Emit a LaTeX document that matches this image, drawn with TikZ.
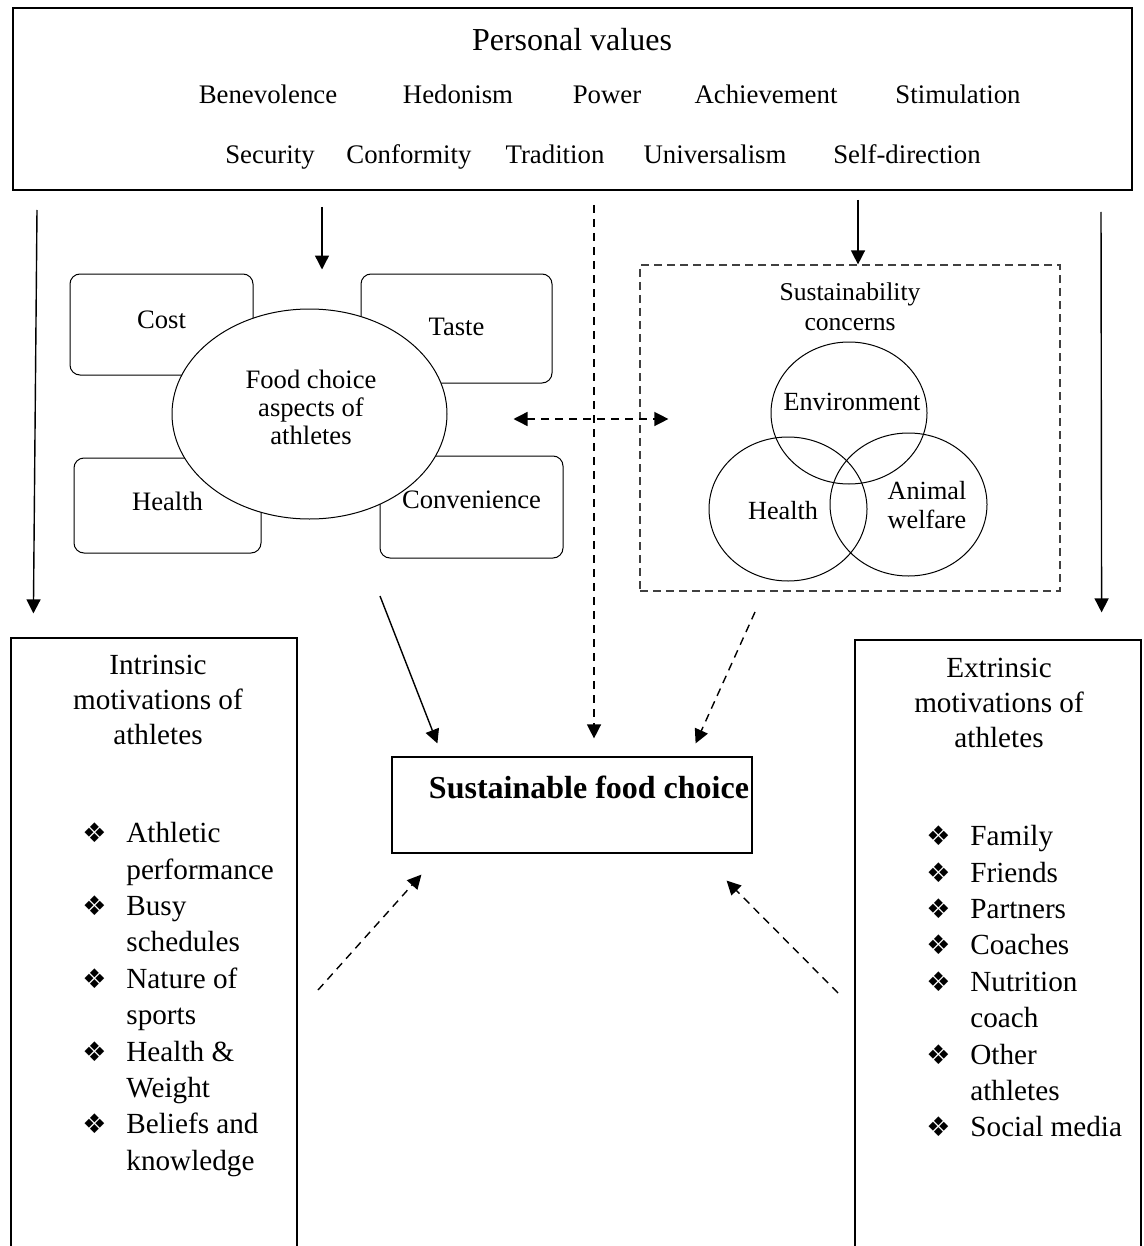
\documentclass[tikz,border=0pt]{standalone}
\usepackage{fontspec}
\setmainfont{Liberation Serif}
\newfontfamily\symfont{DejaVu Sans}
\usetikzlibrary{arrows.meta,shapes.geometric}
\newcommand{\bul}{\makebox[22pt][l]{\symfont\fontsize{13.5}{13.5}\selectfont ❖}}
\newcommand{\ind}{\hspace*{22pt}}

\begin{document}
\begin{tikzpicture}[x=0.5pt,y=-0.5pt]
	\tikzset{box/.style={draw,line width=0.6pt},
		aspect/.style={draw,rounded corners=5pt,line width=0.5pt,font=\fontsize{13.3}{15}\selectfont},
		venn/.style={draw,ellipse,line width=0.5pt,inner sep=0pt},
		val/.style={anchor=base,font=\fontsize{13.4}{15}\selectfont},
		small/.style={font=\fontsize{13.1}{14.5}\selectfont,align=center},
		motiv/.style={font=\fontsize{14.6}{17.5}\selectfont,align=center},
		items/.style={anchor=north west,align=left,inner sep=0pt,font=\fontsize{14.6}{18.2}\selectfont},
		arr/.style={-{Triangle[length=7pt,width=7pt]},line width=0.7pt},
		darr/.style={arr,dash pattern=on 4pt off 3pt}}
	\useasboundingbox (0,0) rectangle (1144,1246);
	\clip (0,0) rectangle (1144,1246);

	\node[box,minimum width=559.5pt,minimum height=91pt] (values) at (572.5,99) {};
	\node[font=\fontsize{16}{18}\selectfont] (pv) at (572,40) {Personal values};
	\foreach \t/\x in {Benevolence/268,Hedonism/458,Power/607,Achievement/766,Stimulation/958}
		\node[val] (a\x) at (\x,104) {\t};
	\foreach \t/\x in {Security/270,Conformity/409,Tradition/555,Universalism/715,Self-direction/907}
		\node[val] (b\x) at (\x,164) {\t};

	\node[aspect,minimum width=91.5pt,minimum height=50.5pt,text depth=5pt] (cost) at (161.5,324.5) {Cost};
	\node[aspect,minimum width=95.5pt,minimum height=54.5pt,text depth=2pt] (taste) at (456.5,328.5) {Taste};
	\node[aspect,minimum width=93.5pt,minimum height=47.5pt,text depth=4pt] (health) at (167.5,505.5) {Health};
	\node[aspect,minimum width=91.5pt,minimum height=51pt,text depth=7pt] (conv) at (471.5,507) {Convenience};
	\node[draw,ellipse,fill=white,line width=0.5pt,minimum width=137.5pt,minimum height=105pt] (fca) at (309.5,414) {};
	\node[small,font=\fontsize{13.3}{14}\selectfont] (fcat) at (311,407) {Food choice\\aspects of\\athletes};

	\node[box,dash pattern=on 4pt off 2.5pt,draw=black!75,minimum width=210pt,minimum height=163pt] (sus) at (850,428) {};
	\node[small,font=\fontsize{12.8}{15}\selectfont] (sust) at (850,307) {Sustainability\\concerns};
	\node[venn,minimum width=78pt,minimum height=71pt] (env) at (849,413) {};
	\node[venn,minimum width=79pt,minimum height=72pt] (hlt) at (788,509) {};
	\node[venn,minimum width=78.5pt,minimum height=71.5pt] (anim) at (908.5,504.5) {};
	\node[small] (envt) at (852,402) {Environment};
	\node[small] (hltt) at (783,511) {Health};
	\node[small] (animt) at (927,505) {Animal\\welfare};

	\node[box,minimum width=180pt,minimum height=48pt] (sfc) at (572,805) {};
	\node[font=\bfseries\fontsize{16}{18}\selectfont] (sfct) at (589,787) {Sustainable food choice};

	\node[box,minimum width=143pt,minimum height=311pt] (intr) at (154,949) {};
	\node[motiv] (intrt) at (158,700) {Intrinsic\\motivations of\\athletes};
	\node[items] (intrl) at (82,822) {\bul Athletic\\\ind performance\\\bul Busy\\\ind schedules\\\bul Nature of\\\ind sports\\\bul Health \&\\\ind Weight\\\bul Beliefs and\\\ind knowledge};

	\node[box,minimum width=143pt,minimum height=310pt] (extr) at (998,950) {};
	\node[motiv] (extrt) at (999,703) {Extrinsic\\motivations of\\athletes};
	\node[items] (extrl) at (926,825) {\bul Family\\\bul Friends\\\bul Partners\\\bul Coaches\\\bul Nutrition\\\ind coach\\\bul Other\\\ind athletes\\\bul Social media};

	\coordinate (s1) at (37,210);
	\coordinate (s2) at (322,207);
	\coordinate (s3) at (594,205);
	\coordinate (s4) at (858,200);
	\coordinate (s5) at (1101,212);
	\coordinate (s6) at (380,596);
	\coordinate (s7) at (755,612);
	\coordinate (s8) at (318,990);
	\coordinate (s9) at (838,993);

	\draw[arr] (s1) -- ([xshift=11.5pt,yshift=12pt]intr.north west);
	\draw[arr] (s2) -- ([xshift=6.25pt,yshift=19.5pt]fca.north);
	\draw[darr] (s3) -- ([xshift=11pt,yshift=9pt]sfc.north);
	\draw[arr] (s4) -- ([xshift=4pt]sus.north);
	\draw[arr] (s5) -- ([xshift=-20pt,yshift=13.5pt]extr.north east);
	\draw[arr] (s6) -- ([xshift=23pt,yshift=6.5pt]sfc.north west);
	\draw[darr] (s7) -- ([xshift=-28.5pt,yshift=6.5pt]sfc.north east);
	\draw[darr,{Triangle[length=7pt,width=7pt]}-{Triangle[length=7pt,width=7pt]}] ([xshift=33pt,yshift=-2.5pt]fca.east) -- ([xshift=14.5pt,yshift=4.5pt]sus.west);
	\draw[darr] (s8) -- ([xshift=15pt,yshift=-10.5pt]sfc.south west);
	\draw[darr] (s9) -- ([xshift=-13pt,yshift=-13.5pt]sfc.south east);
\end{tikzpicture}
\end{document}
